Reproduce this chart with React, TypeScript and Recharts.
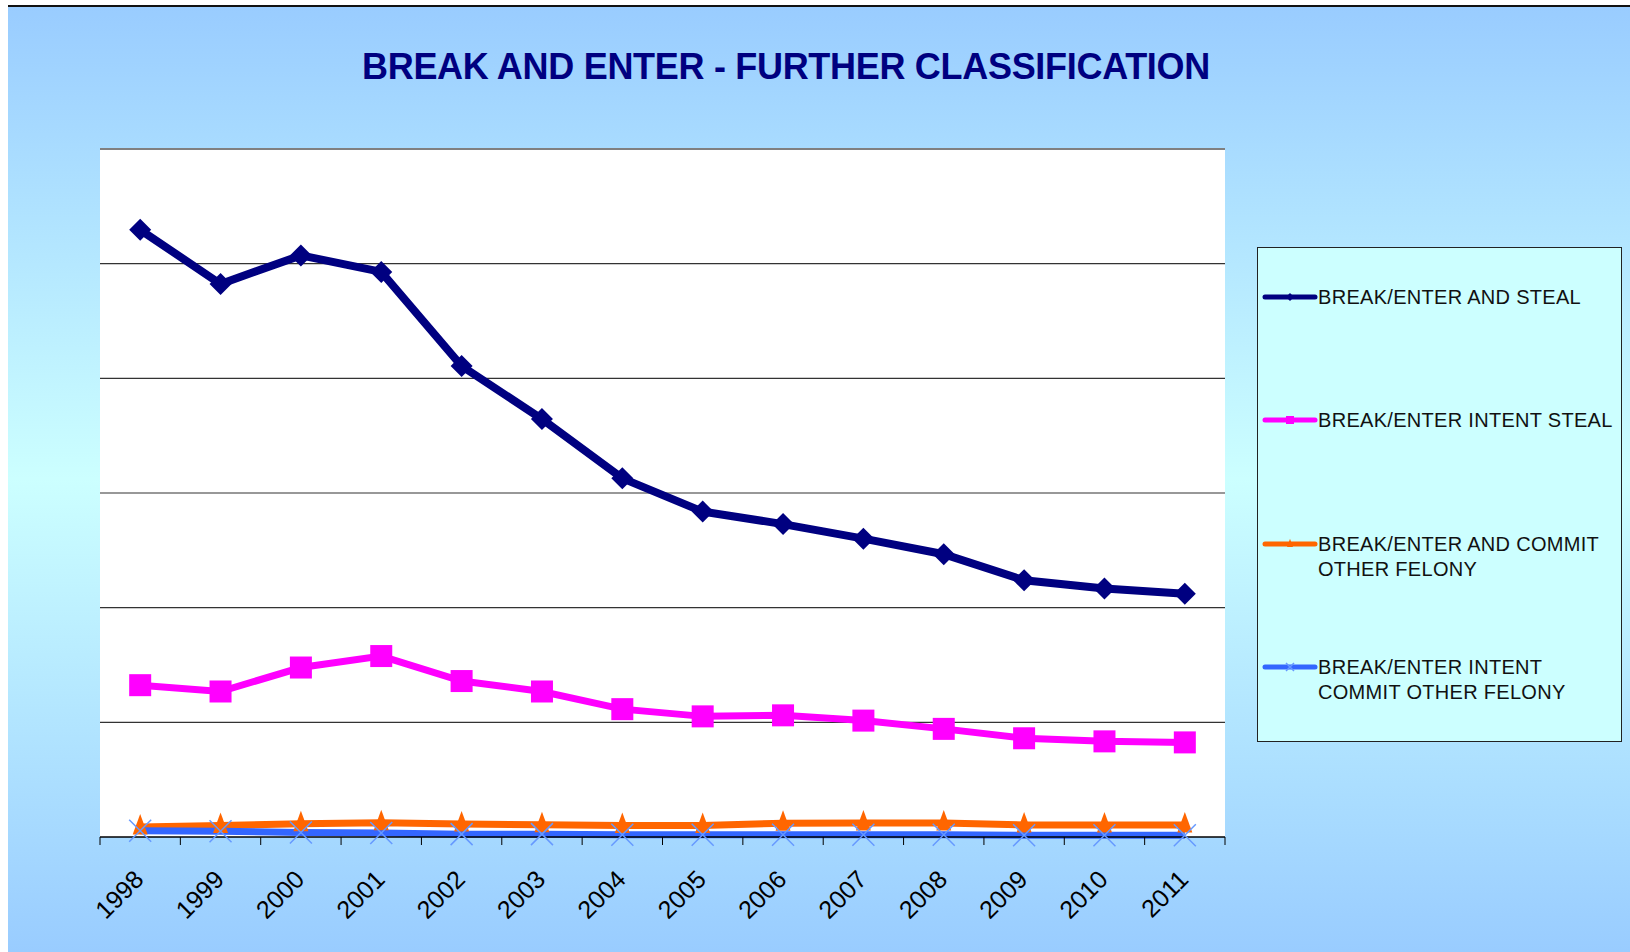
import React from 'react';
import { CartesianGrid, Legend, Line, LineChart, ReferenceLine, XAxis, YAxis } from 'recharts';

const years = ['1998', '1999', '2000', '2001', '2002', '2003', '2004', '2005', '2006', '2007', '2008', '2009', '2010', '2011'];
const andSteal = [5295, 4823, 5072, 4928, 4107, 3645, 3128, 2838, 2729, 2602, 2466, 2239, 2167, 2121];
const intentSteal = [1324, 1269, 1478, 1578, 1360, 1269, 1115, 1052, 1061, 1015, 943, 861, 834, 825];
const andCommit = [87, 100, 116, 125, 113, 107, 100, 100, 120, 122, 122, 105, 105, 105];
const intentCommit = [55, 50, 40, 35, 25, 25, 20, 20, 20, 20, 20, 15, 15, 15];
const yTicks = [0, 1000, 2000, 3000, 4000, 5000, 6000];

const legendLines = [
    ['BREAK/ENTER AND STEAL'],
    ['BREAK/ENTER INTENT STEAL'],
    ['BREAK/ENTER AND COMMIT', 'OTHER FELONY'],
    ['BREAK/ENTER INTENT', 'COMMIT OTHER FELONY'],
];
const legendRows = [50, 173, 297, 420];

const data = years.map((year, i) => ({
    year,
    andSteal: andSteal[i],
    intentSteal: intentSteal[i],
    andCommit: andCommit[i],
    intentCommit: intentCommit[i],
}));

const W = 1622;
const H = 947;
const margin = { top: 144, right: 405, bottom: 55, left: 92 };
const PLOT_W = W - margin.left - margin.right;
const STEP = PLOT_W / years.length;
const FONT = 'Liberation Sans, Arial, sans-serif';

const NAVY = '#000080';
const MAGENTA = '#FF00FF';
const ORANGE = '#FF6600';
const BLUE = '#3366FF';

function marker(kind: number, cx: number, cy: number, s: number, key?: string) {
    if (kind === 0) {
        return <polygon key={key} points={`${cx},${cy - s} ${cx + s},${cy} ${cx},${cy + s} ${cx - s},${cy}`} fill={NAVY} />;
    }
    if (kind === 1) {
        return <rect key={key} x={cx - s} y={cy - s} width={s * 2} height={s * 2} fill={MAGENTA} />;
    }
    if (kind === 2) {
        return <polygon key={key} points={`${cx},${cy - s * 1.3} ${cx + s * 0.75},${cy + s * 0.75} ${cx - s * 0.75},${cy + s * 0.75}`} fill={ORANGE} />;
    }
    return (
        <path key={key} d={`M${cx - s},${cy - s}L${cx + s},${cy + s}M${cx + s},${cy - s}L${cx - s},${cy + s}`}
            stroke="#6699FF" strokeWidth={1.5} fill="none" />
    );
}

const dot = (kind: number, size: number) => (props: any) => marker(kind, props.cx, props.cy, size, `m${kind}-${props.index}`);

const YearTick = (props: any) => {
    const { x, y, payload, index } = props;
    const half = STEP / 2;
    const ax = x + 5;
    const ay = y + 44;
    return (
        <g>
            <line x1={x - half} x2={x - half} y1={y} y2={y + 8} stroke="#000" />
            {index === years.length - 1 && <line x1={x + half} x2={x + half} y1={y} y2={y + 8} stroke="#000" />}
            <text x={ax} y={ay} textAnchor="end" transform={`rotate(-45 ${ax} ${ay})`}
                fontFamily={FONT} fontSize={25} fill="#000">{payload.value}</text>
        </g>
    );
};

const colors = [NAVY, MAGENTA, ORANGE, BLUE];

const renderLegend = () => (
    <svg width={365} height={495} style={{ display: 'block' }}>
        <rect x={0.5} y={0.5} width={364} height={494} fill="#CCFFFF" stroke="#222" />
        {legendLines.map((lines, i) => (
            <g key={i}>
                <line x1={8} x2={58} y1={legendRows[i]} y2={legendRows[i]} stroke={colors[i]} strokeWidth={5} strokeLinecap="round" />
                {marker(i, 33, legendRows[i], 4)}
                {lines.map((t, j) => (
                    <text key={j} x={61} y={legendRows[i] + j * 25 + 7} fontFamily={FONT} fontSize={20}
                        letterSpacing={0.3} fill="#111">{t}</text>
                ))}
            </g>
        ))}
    </svg>
);

export default function App() {
    return (
        <div style={{
            position: 'absolute', left: 8, top: 5, width: W, height: H,
            background: 'linear-gradient(to bottom, #99CCFF 0%, #CCFFFF 50%, #99CCFF 100%)',
        }}>
            <div style={{ position: 'absolute', left: 0, top: 0, width: W, height: 2, background: '#111' }} />
            <LineChart width={W} height={H} data={data} margin={margin}>
                <CartesianGrid yAxisId="l" horizontal={false} vertical={false} fill="#fff" fillOpacity={1} />
                <XAxis dataKey="year" interval={0} height={60} tickSize={0} tickMargin={0}
                    padding={{ left: STEP / 2, right: STEP / 2 }}
                    axisLine={{ stroke: '#000', strokeWidth: 1.5 }} tickLine={false} tick={<YearTick />} />
                <YAxis yAxisId="l" domain={[0, 6000]} ticks={yTicks} width={0} tick={false} tickLine={false}
                    axisLine={{ stroke: '#808080', strokeWidth: 2 }} />
                <YAxis yAxisId="r" orientation="right" domain={[0, 6000]} ticks={yTicks} width={0} tick={false}
                    tickLine={false} axisLine={{ stroke: '#808080', strokeWidth: 2 }} />
                {yTicks.slice(1, -1).map((v) => (
                    <ReferenceLine key={v} yAxisId="l" y={v} stroke="#333" strokeWidth={1.2} />
                ))}
                <ReferenceLine yAxisId="l" y={6000} stroke="#808080" strokeWidth={2} />
                <Line yAxisId="l" dataKey="andSteal" name="BREAK/ENTER AND STEAL" stroke={NAVY} strokeWidth={8}
                    dot={dot(0, 11)} activeDot={false} isAnimationActive={false} />
                <Line yAxisId="l" dataKey="intentSteal" name="BREAK/ENTER INTENT STEAL" stroke={MAGENTA} strokeWidth={7}
                    dot={dot(1, 11)} activeDot={false} isAnimationActive={false} />
                <Line yAxisId="l" dataKey="andCommit" name="BREAK/ENTER AND COMMIT OTHER FELONY" stroke={ORANGE} strokeWidth={7}
                    dot={dot(2, 10)} activeDot={false} isAnimationActive={false} />
                <Line yAxisId="l" dataKey="intentCommit" name="BREAK/ENTER INTENT COMMIT OTHER FELONY" stroke={BLUE} strokeWidth={7}
                    dot={dot(3, 11)} activeDot={false} isAnimationActive={false} />
                <Legend layout="vertical" align="center" verticalAlign="middle" content={renderLegend}
                    wrapperStyle={{ position: 'absolute', left: 1249, top: 242, width: 365, height: 495 }} />
            </LineChart>
            <svg width={W} height={120} style={{ position: 'absolute', left: 0, top: 0, pointerEvents: 'none' }}>
                <text x={778} y={74} textAnchor="middle" fontFamily={FONT} fontWeight="bold" fontSize={36}
                    letterSpacing={-0.3} fill={NAVY}>BREAK AND ENTER - FURTHER CLASSIFICATION</text>
            </svg>
        </div>
    );
}
